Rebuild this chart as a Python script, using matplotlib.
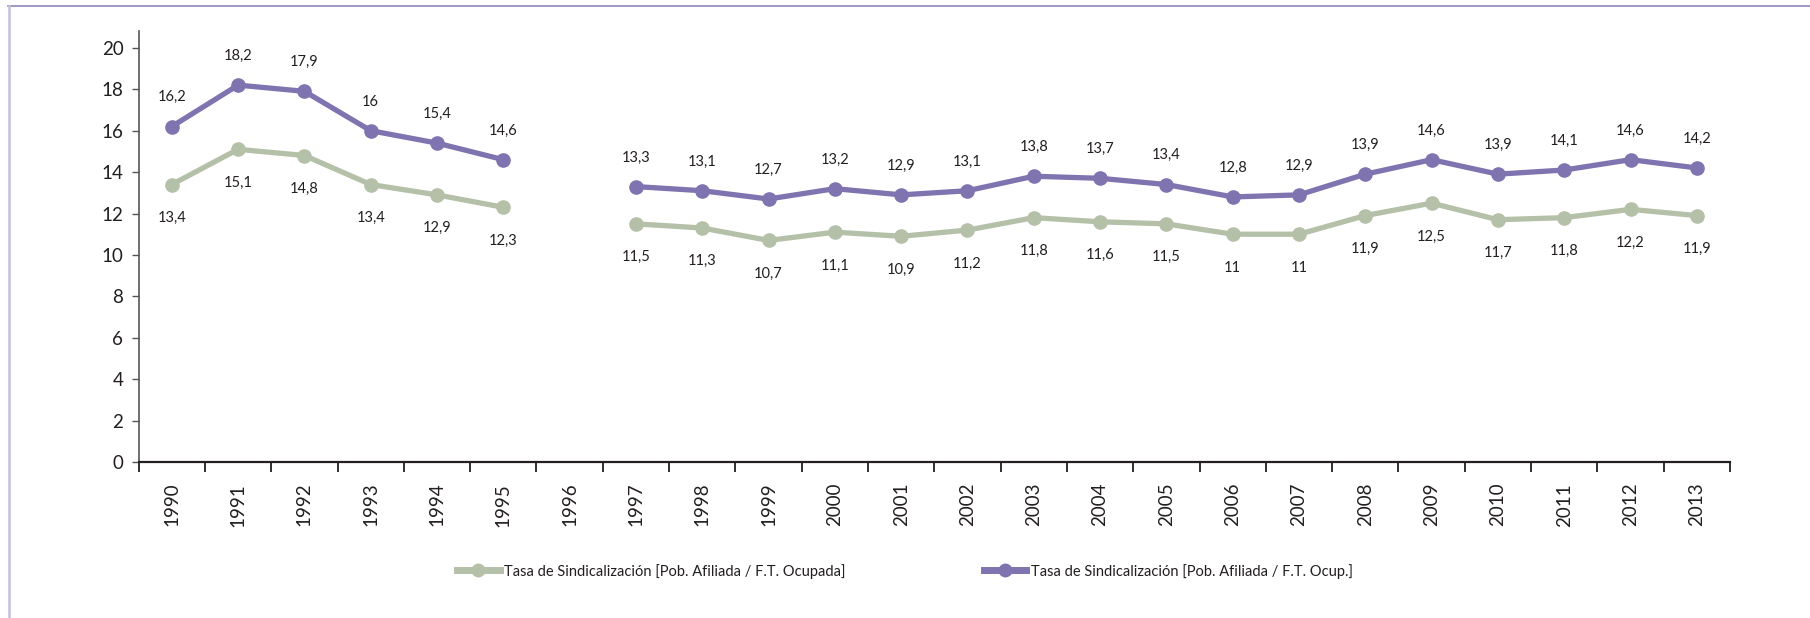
import numpy as np
import matplotlib
matplotlib.use('Agg')
import matplotlib.pyplot as plt
from matplotlib.lines import Line2D

plt.rcParams['font.family'] = ['Lato', 'DejaVu Sans']

# Data
years = ['1990', '1991', '1992', '1993', '1994', '1995', '1996', '1997', '1998',
         '1999', '2000', '2001', '2002', '2003', '2004', '2005', '2006', '2007',
         '2008', '2009', '2010', '2011', '2012', '2013']
tasa_ocupada = [13.4, 15.1, 14.8, 13.4, 12.9, 12.3, np.nan, 11.5, 11.3, 10.7, 11.1,
                10.9, 11.2, 11.8, 11.6, 11.5, 11.0, 11.0, 11.9, 12.5, 11.7, 11.8,
                12.2, 11.9]
tasa_ocup = [16.2, 18.2, 17.9, 16.0, 15.4, 14.6, np.nan, 13.3, 13.1, 12.7, 13.2,
             12.9, 13.1, 13.8, 13.7, 13.4, 12.8, 12.9, 13.9, 14.6, 13.9, 14.1,
             14.6, 14.2]
label_ocupada = 'Tasa de Sindicalización [Pob. Afiliada / F.T. Ocupada]'
label_ocup = 'Tasa de Sindicalización [Pob. Afiliada / F.T. Ocup.]'

green = '#b4c0a7'
purple = '#7f73b0'
txt = '#231f20'


def fmt(v):
    s = ('%.1f' % v).replace('.', ',')
    return s[:-2] if s.endswith(',0') else s


fig = plt.figure(figsize=(18.1, 6.18), dpi=100)
ax = fig.add_axes([0.0766, 0.2524, 0.8792, 0.6836])

x = np.arange(len(years))
ax.plot(x, tasa_ocupada, color=green, lw=3.8, marker='o', ms=9.5, label=label_ocupada)
ax.plot(x, tasa_ocup, color=purple, lw=3.8, marker='o', ms=9.5, label=label_ocup)

# Data labels
for xi, v in zip(x, tasa_ocupada):
    if not np.isnan(v):
        ax.annotate(fmt(v), (xi, v), xytext=(0, -24), textcoords='offset points',
                    ha='center', va='center', fontsize=10.5, color=txt)
for xi, v in zip(x, tasa_ocup):
    if not np.isnan(v):
        ax.annotate(fmt(v), (xi, v), xytext=(0, 21), textcoords='offset points',
                    ha='center', va='center', fontsize=10.5, color=txt)

ax.set_xlim(-0.5, len(years) - 0.5)
ax.set_ylim(0, 20.4)
ax.set_yticks(np.arange(0, 21, 2))
ax.tick_params(axis='y', labelsize=13.5, length=5, width=1, color='#555555',
               pad=6, labelcolor=txt)

ax.set_xticks(np.arange(-0.5, len(years), 1))
ax.set_xticklabels([])
ax.tick_params(axis='x', which='major', length=7, width=1.3, color=txt)
ax.set_xticks(x, minor=True)
ax.set_xticklabels(years, minor=True, rotation=90)
ax.tick_params(axis='x', which='minor', length=0, labelsize=13.5, pad=15, labelcolor=txt)

for s in ['top', 'right']:
    ax.spines[s].set_visible(False)
ax.spines['left'].set_color('#555555')
ax.spines['left'].set_linewidth(1.2)
ax.spines['bottom'].set_color(txt)
ax.spines['bottom'].set_linewidth(1.6)
ax.spines['left'].set_bounds(0, 20.8)

handles = [Line2D([], [], color=green, lw=5, marker='o', ms=9),
           Line2D([], [], color=purple, lw=5, marker='o', ms=9)]
fig.legend(handles, [label_ocupada, label_ocup], loc='center',
           bbox_to_anchor=(0.5, 0.076), ncol=2, frameon=False, fontsize=10.5,
           handlelength=2.9, handletextpad=0.3, columnspacing=9.5,
           labelcolor=txt)

# Frame lines (top and left)
fig.add_artist(Line2D([8 / 1810, 1], [1 - 5.5 / 618] * 2, color='#8e88bb', lw=1.2))
fig.add_artist(Line2D([8.5 / 1810] * 2, [0, 1 - 5.5 / 618], color='#c3c0e2', lw=1.8))

fig.savefig('out.png', dpi=100)
